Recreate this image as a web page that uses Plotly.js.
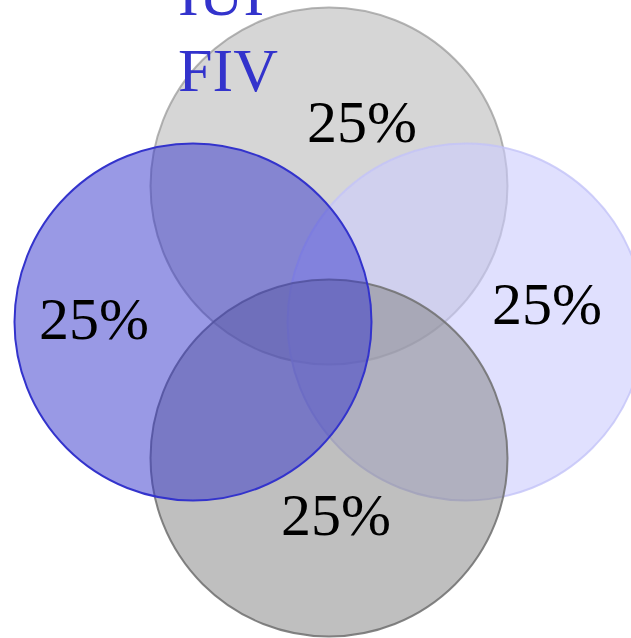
<!DOCTYPE html>
<html>
<head>
<meta charset="utf-8">
<script src="https://cdn.plot.ly/plotly-3.0.1.min.js"></script>
<style>html,body{margin:0;padding:0;background:#fff;}#chart{width:631px;height:638px;}</style>
</head>
<body>
<div id="chart"></div>
<script>
// Data
const regionNames = ['top', 'left', 'right', 'bottom'];
const regionShares = [25, 25, 25, 25];
const legendLines = ['IUI', 'FIV'];

// Layout geometry (pixel-space axes)
const W = 631, H = 638;
const circles = {
  top:    {cx: 329, cy: 186, r: 178.5, fill: 'rgba(192,192,192,0.65)', line: 'rgba(150,150,150,0.7)'},
  right:  {cx: 466, cy: 322, r: 178.5, fill: 'rgba(204,204,253,0.6)', line: 'rgba(195,195,248,0.8)'},
  bottom: {cx: 329, cy: 458, r: 178.5, fill: 'rgba(128,128,128,0.5)', line: 'rgba(110,110,110,0.85)'},
  left:   {cx: 193, cy: 322, r: 178.5, fill: 'rgba(51,51,204,0.5)', line: 'rgba(51,51,204,1)'}
};
const drawOrder = ['top', 'right', 'bottom', 'left'];
const labelPos = {
  top:    [362, 127],
  left:   [94, 324],
  right:  [547, 309],
  bottom: [336, 520]
};

const shapes = drawOrder.map(k => {
  const c = circles[k];
  return {
    type: 'circle', xref: 'x', yref: 'y',
    x0: c.cx - c.r, x1: c.cx + c.r, y0: c.cy - c.r, y1: c.cy + c.r,
    fillcolor: c.fill, line: {color: c.line, width: 2}, layer: 'below'
  };
});

const textTrace = {
  type: 'scatter', mode: 'text',
  x: regionNames.map(n => labelPos[n][0]),
  y: regionNames.map(n => labelPos[n][1]),
  text: regionShares.map(v => v + '%'),
  textposition: 'middle center',
  textfont: {family: 'Liberation Serif, Times New Roman, serif', size: 60, color: '#000'},
  hoverinfo: 'skip', showlegend: false,
  cliponaxis: false
};

const annotations = legendLines.map((t, i) => ({
  xref: 'x', yref: 'y', x: 176, y: [16, 92][i],
  xanchor: 'left', yanchor: 'bottom', yshift: -14,
  text: t, showarrow: false,
  font: {family: 'Liberation Serif, Times New Roman, serif', size: 62, color: '#3333cc'}
}));

const layout = {
  width: W, height: H,
  margin: {l: 0, r: 0, t: 0, b: 0},
  paper_bgcolor: '#fff', plot_bgcolor: 'rgba(0,0,0,0)',
  xaxis: {range: [0, W], visible: false, fixedrange: true},
  yaxis: {range: [H, 0], visible: false, fixedrange: true},
  shapes: shapes,
  annotations: annotations,
  showlegend: false
};

Plotly.newPlot('chart', [textTrace], layout, {staticPlot: true, displayModeBar: false});
</script>
</body>
</html>
